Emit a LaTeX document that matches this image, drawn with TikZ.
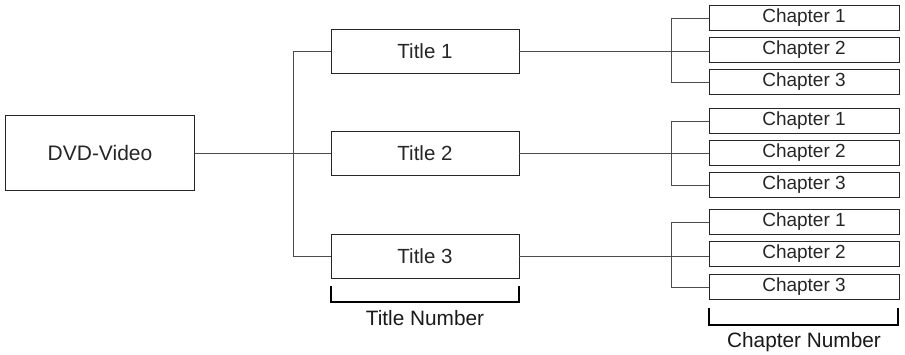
\documentclass[tikz,border=0pt]{standalone}
\usepackage{fontspec}
\setmainfont{Liberation Sans}
\begin{document}
\begin{tikzpicture}[x=1pt,y=-1pt,
  box/.style={draw=black!85,line width=0.9pt,rectangle,inner sep=0pt,text=black!85},
  dvdbox/.style={box,minimum width=189pt,minimum height=75pt,font=\fontsize{21}{24}\selectfont},
  titlebox/.style={box,minimum width=188pt,minimum height=44pt,font=\fontsize{20.5}{24}\selectfont},
  chapbox/.style={box,minimum width=190pt,minimum height=25pt,font=\fontsize{19}{21}\selectfont},
  conn/.style={draw=black!70,line width=0.8pt},
  bracket/.style={draw=black,line width=1.5pt},
  lbl/.style={font=\fontsize{20.8}{24}\selectfont,inner sep=0pt,text=black!90}]
\useasboundingbox (0,0) rectangle (905,355);
\node[dvdbox] (dvd) at (100,153) {DVD-Video};
\node[titlebox] (t1) at (425,51) {Title 1};
\node[titlebox] (t2) at (425,153) {Title 2};
\node[titlebox] (t3) at (425,256) {Title 3};
\node[chapbox] (c11) at (804,18) {Chapter 1};
\node[chapbox] (c12) at (804,50) {Chapter 2};
\node[chapbox] (c13) at (804,82) {Chapter 3};
\node[chapbox] (c21) at (804,121) {Chapter 1};
\node[chapbox] (c22) at (804,153) {Chapter 2};
\node[chapbox] (c23) at (804,185) {Chapter 3};
\node[chapbox] (c31) at (804,222) {Chapter 1};
\node[chapbox] (c32) at (804,254) {Chapter 2};
\node[chapbox] (c33) at (804,287) {Chapter 3};
% trunk
\draw[conn] (dvd.east) -- (t2.west);
\draw[conn] (t1.west) -- ++(-37,0) |- (t3.west);
% title to chapters
\draw[conn] (t1.east) -- (t1.east -| c12.west);
\draw[conn] (t2.east) -- (c22.west);
\draw[conn] (t3.east) -- (t3.east -| c32.west);
\draw[conn] (c11.west) -- ++(-37,0) |- (c13.west);
\draw[conn] (c21.west) -- ++(-37,0) |- (c23.west);
\draw[conn] (c31.west) -- ++(-37,0) |- (c33.west);
% brackets
\coordinate (tb1) at (331,286);
\coordinate (tb2) at (519,286);
\draw[bracket] (tb1) -- ++(0,16) -| (tb2);
\node[lbl] (tn) at (425,318) {Title Number};
\coordinate (cb1) at (709,308);
\coordinate (cb2) at (898,308);
\draw[bracket] (cb1) -- ++(0,17) -| (cb2);
\node[lbl] (cn) at (804,342) {Chapter Number};
\end{tikzpicture}
\end{document}
